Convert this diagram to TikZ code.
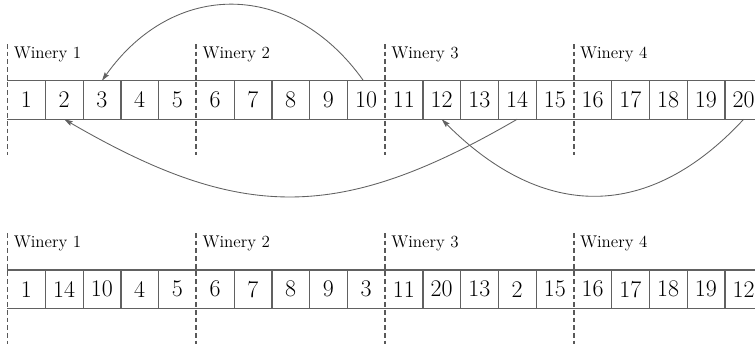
\documentclass[tikz,border=0pt]{standalone}
\usetikzlibrary{arrows.meta}
\begin{document}
\begin{tikzpicture}[
  cell/.style={minimum width=1cm, minimum height=1.005cm, inner sep=0pt, font=\fontsize{18}{20}\selectfont},
  cellline/.style={draw=black!62, line width=1pt},
  sep/.style={draw=black!65, line width=1.3pt, dash pattern=on 3.6pt off 2.2pt},
  wlabel/.style={anchor=base west, inner sep=0pt, xshift=4.5pt, font=\fontsize{12.8}{14}\selectfont},
  arc/.style={draw=black!62, line width=0.65pt, -{Stealth[length=6.5pt,width=3.8pt,inset=1pt]}}
]
\useasboundingbox (0,0) rectangle (20,-9.086);
% separators and labels
\foreach \k/\x in {1/0.2,2/5.2,3/10.2,4/15.2}{
  \coordinate (st\k) at (\x,-1.166);
  \coordinate (se\k) at (\x,-4.106);
  \coordinate (bt\k) at (\x,-6.172);
  \coordinate (be\k) at (\x,-9.1);
  \node[wlabel] (wt\k) at (\x,-1.545) {Winery \k};
  \node[wlabel] (wb\k) at (\x,-6.565) {Winery \k};
}
% top row
\foreach \i in {1,...,20}{
  \node[cell] (t\i) at (\i-0.3,-2.649) {\i};
}
% bottom row
\foreach \i/\v in {1/1,2/14,3/10,4/4,5/5,6/6,7/7,8/8,9/9,10/3,11/11,12/20,13/13,14/2,15/15,16/16,17/17,18/18,19/19,20/12}{
  \node[cell] (b\i) at (\i-0.3,-7.662) {\v};
}
% cell borders
\foreach \r in {t,b}{
  \draw[cellline] (\r1.north west) -- (\r20.north east);
  \draw[cellline] (\r1.south west) -- (\r20.south east);
  \foreach \i in {1,2,3,4,6,7,8,9,11,12,13,14,16,17,18,19,20}{
    \draw[cellline] (\r\i.north east) -- (\r\i.south east);
  }
}
\foreach \k in {1,2,3,4}{
  \draw[sep] (st\k) -- (se\k);
  \draw[sep] (bt\k) -- (be\k);
}
% swap arcs
\draw[arc] ([xshift=-2pt]t10.north) .. controls +(-1.9,2.68) and +(1.9,2.68) .. (t3.north);
\draw[arc] (t14.south) .. controls +(-4.7,-2.73) and +(4.7,-2.73) .. (t2.south);
\draw[arc] (t20.south) .. controls +(-2.5,-2.7) and +(2.7,-2.7) .. (t12.south);
\end{tikzpicture}
\end{document}
